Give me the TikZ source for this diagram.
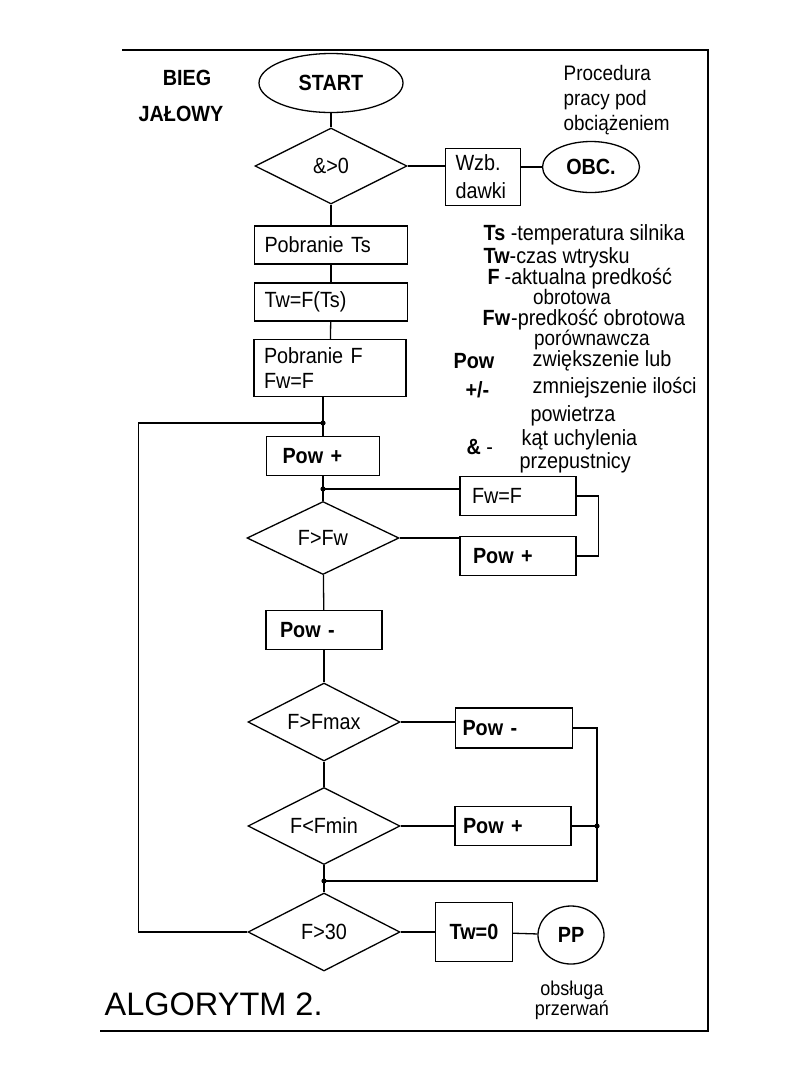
\documentclass[tikz,border=0pt]{standalone}
\usepackage{fontspec}
\setmainfont{Liberation Sans}[FakeStretch=0.9]
\newfontfamily\titlefont{Liberation Sans}
\usetikzlibrary{shapes.geometric}

\begin{document}
\begin{tikzpicture}[x=1pt, y=-1pt, line width=1.3pt,
  every node/.style={font=\fontsize{22}{25}\selectfont},
  bold/.style={font=\fontsize{22}{25}\selectfont\bfseries},
  box/.style={draw, rectangle, inner xsep=10pt, inner ysep=0pt, minimum height=39pt, align=left},
  cond/.style={draw, diamond, aspect=2, inner sep=0pt, minimum width=152pt, minimum height=76pt},
  term/.style={draw, ellipse, inner sep=0pt},
  legend/.style={anchor=west, inner sep=0pt, font=\fontsize{22}{25}\selectfont}]
  \useasboundingbox (0,0) rectangle (810,1080);

  % ramka
  \draw[line width=1.8pt] (122,50) -- (708,50) -- (708,1031) -- (100,1031);

  % naglowek
  \node[bold] (bieg) at (187,78) {BIEG};
  \node[bold] (jal) at (181,114) {JAŁOWY};
  \node[term, bold, minimum width=144pt, minimum height=59pt] (start) at (331,83) {START};
  \node[anchor=west, align=left, inner sep=0pt, font=\fontsize{21}{25}\selectfont] (proc) at (563,100) {Procedura\\pracy pod\\obciążeniem};

  % gora algorytmu
  \node[cond] (c0) at (331,166) {\&>0\hspace{38pt}};
  \node[box, text width=55pt, minimum height=57pt, font=\fontsize{22}{28}\selectfont] (wzb) at (483,177) {Wzb.\\dawki};
  \node[term, bold, minimum width=97pt, minimum height=51pt] (obc) at (591,167) {OBC.};
  \node[box, text width=133pt, minimum height=38pt] (ts) at (331,245) {Pobranie Ts};
  \node[box, text width=133pt, minimum height=38pt] (tw) at (331,302) {Tw=F(Ts)};
  \node[box, text width=132pt, minimum height=57pt] (pf) at (330,368) {Pobranie F\\Fw=F};

  % petla F>Fw
  \coordinate (j1) at (323,423);
  \node[box, bold, inner xsep=16pt, text width=81pt] (powp) at (323,456) {Pow +};
  \coordinate (j2) at (323,489);
  \node[cond, minimum height=73pt] (cfw) at (323,538) {F>Fw};
  \node[box, inner xsep=12pt, text width=92pt] (fw) at (518,496) {Fw=F};
  \node[box, bold, inner xsep=13pt, text width=90pt] (powp2) at (518,556) {Pow +};

  % Fmax / Fmin
  \node[box, bold, inner xsep=14pt, text width=88pt] (pm) at (324,630) {Pow -};
  \node[cond, minimum height=78pt] (cmax) at (324,722) {F>Fmax};
  \node[box, bold, inner xsep=7pt, text width=103pt, minimum height=40pt] (pm2) at (514,728) {Pow -};
  \node[cond, minimum height=77pt] (cmin) at (324,826) {F<Fmin\hspace{20pt}};
  \node[box, bold, inner xsep=8pt, text width=100pt] (pp2) at (513,826) {Pow +};
  \coordinate (j3) at (324,881);
  \coordinate (j4) at (597,826);

  % F>30
  \node[cond, minimum height=78pt] (c30) at (324,932) {F>30\hspace{50pt}};
  \node[box, bold, inner xsep=0pt, minimum width=77pt, minimum height=59pt] (tw0) at (474,932) {Tw=0};
  \node[term, bold, minimum width=66pt, minimum height=58pt] (pp) at (571,935) {PP};
  \node[align=center, inner sep=0pt, font=\fontsize{20}{17}\selectfont] (obs) at (572,1000) {obsługa\\przerwań};
  \node[anchor=west, inner sep=0pt, font=\titlefont\fontsize{32.5}{36}\selectfont] (alg) at (104,1004) {ALGORYTM 2.};

  % legenda
  \node[legend] (lts) at (483,235) {\textbf{Ts} -temperatura silnika};
  \node[legend] (ltw) at (483,258) {\textbf{Tw}-czas wtrysku};
  \node[legend] (lf) at (487,279) {\textbf{F}\hspace{5pt}-aktualna predkość};
  \node[legend, anchor=center, font=\fontsize{21}{25}\selectfont] (lf2) at (572,297) {obrotowa};
  \node[legend] (lfw) at (482,320) {\textbf{Fw}\hspace{1pt}-predkość obrotowa};
  \node[legend, anchor=center, font=\fontsize{21}{25}\selectfont] (lfw2) at (592,340) {porównawcza};
  \node[legend] (lpow) at (453,361) {\textbf{Pow}};
  \node[legend] (lpm) at (465,390) {\textbf{+/-}};
  \node[legend] (l1) at (532,361) {zwiększenie lub};
  \node[legend] (l2) at (532,388) {zmniejszenie ilości};
  \node[legend] (l3) at (530,416) {powietrza};
  \node[legend] (land) at (466,447) {\textbf{\&} -};
  \node[legend] (l4) at (521,440) {kąt uchylenia};
  \node[legend] (l5) at (519,463) {przepustnicy};

  % polaczenia
  \draw (start) -- (c0);
  \draw (c0.east) -- (c0.east -| wzb.west);
  \draw (wzb.east |- obc.west) -- (obc.west);
  \draw (c0) -- (ts);
  \draw (ts) -- (tw);
  \draw (tw) -- (pf);
  \draw (pf.south -| j1) -- (j1) -- (powp);
  \draw (powp) -- (j2) -- (cfw);
  \draw (j2) -- (j2 -| fw.west);
  \draw (cfw.east) -- (cfw.east -| powp2.west);
  \draw (fw.east) -- ++(22,0) |- (powp2.east);
  \draw (cfw) -- (pm);
  \draw (pm) -- (cmax);
  \draw (cmax) -- (cmin);
  \draw (cmax.east) -- (cmax.east -| pm2.west);
  \draw (cmin.east) -- (pp2.west);
  \draw (pm2.east) -- (pm2.east -| j4) -- (j4 |- j3) -- (j3);
  \draw (pp2.east) -- (j4);
  \draw (cmin) -- (j3) -- (c30);
  \draw (c30.west) -- ++(-109,0) |- (j1);
  \draw (c30.east) -- (tw0);
  \draw (tw0) -- (pp);
  \foreach \j in {j1,j2,j3,j4}
    \fill (\j) circle (2.6pt);
\end{tikzpicture}
\end{document}
